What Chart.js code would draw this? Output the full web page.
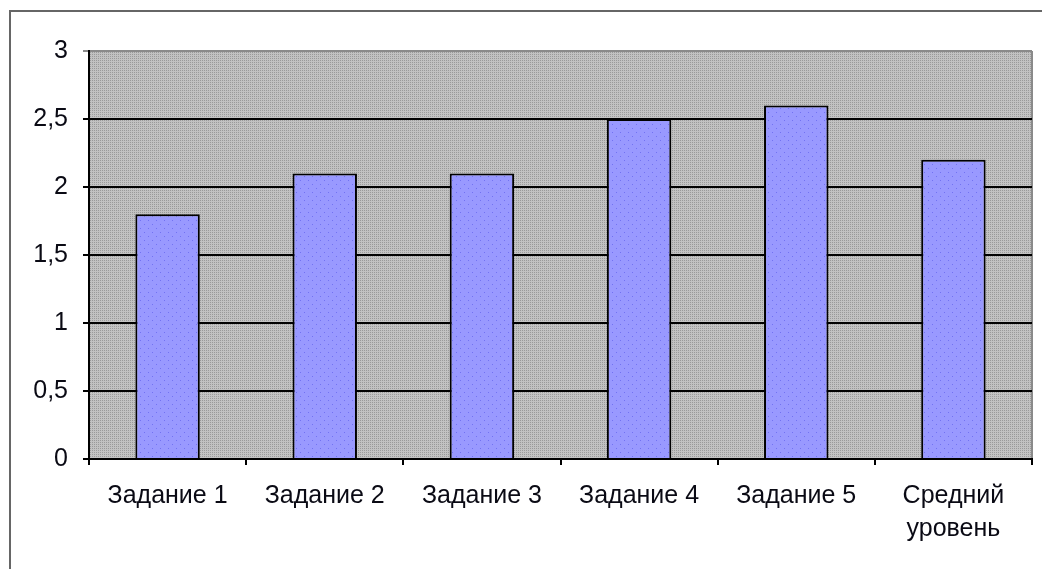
<!DOCTYPE html>
<html>
<head>
<meta charset="utf-8">
<script src="https://cdn.jsdelivr.net/npm/chart.js@4/dist/chart.umd.min.js"></script>
<style>
  html, body { margin: 0; padding: 0; background: #ffffff; }
  #wrap { width: 1042px; height: 569px; position: relative; }
</style>
</head>
<body>
<div id="wrap"><canvas id="chart_tasks" width="1042" height="569"></canvas></div>
<script>
/* ------------------
  data
-------------------*/
var taskLabels = ['Задание 1', 'Задание 2', 'Задание 3', 'Задание 4', 'Задание 5', ['Средний', 'уровень']];
var taskScores = [1.8, 2.1, 2.1, 2.5, 2.6, 2.2];
var yTicks = [0, 0.5, 1, 1.5, 2, 2.5, 3];

/* ------------------
  fill patterns
-------------------*/
// small tiles drawn on an offscreen canvas, repeated as fill
function makePattern(w, h, base, dot, dots) {
  var c = document.createElement('canvas');
  c.width = w; c.height = h;
  var g = c.getContext('2d');
  g.fillStyle = base;
  g.fillRect(0, 0, w, h);
  g.fillStyle = dot;
  dots.forEach(function (p) { g.fillRect(p[0], p[1], 1, 1); });
  return g.createPattern(c, 'repeat');
}

var plotFill = makePattern(2, 2, '#c2c2c2', '#9a9a9a', [[0, 0]]);
var barFill = makePattern(8, 8, '#9999ff', '#7272f2', [[0, 0], [4, 4]]);

// grey plot background + outer frame
var frame = {
  id: 'frame',
  beforeDraw: function (chart) {
    var ctx = chart.ctx, a = chart.chartArea;
    ctx.save();
    ctx.strokeStyle = '#666666';
    ctx.lineWidth = 2;
    ctx.beginPath();
    ctx.moveTo(10, 600);
    ctx.lineTo(10, 11);
    ctx.lineTo(1100, 11);
    ctx.stroke();
    ctx.fillStyle = plotFill;
    ctx.fillRect(a.left, a.top, a.right - a.left, a.bottom - a.top);
    ctx.strokeStyle = '#8a8a8a';
    ctx.lineWidth = 2;
    ctx.beginPath();
    ctx.moveTo(a.right, a.top);
    ctx.lineTo(a.right, a.bottom);
    ctx.stroke();
    ctx.restore();
  }
};

var chart_tasks = new Chart(document.getElementById('chart_tasks'), {
  type: 'bar',
  data: {
    labels: taskLabels,
    datasets: [{
      data: taskScores,
      backgroundColor: barFill,
      borderColor: '#000000',
      borderWidth: 2,
      categoryPercentage: 1,
      barPercentage: 0.41
    }]
  },
  options: {
    responsive: false,
    animation: false,
    layout: { padding: { left: 0, right: 10, top: 51, bottom: 0 } },
    plugins: {
      legend: { display: false },
      tooltip: { enabled: false }
    },
    scales: {
      x: {
        grid: {
          offset: true,
          drawOnChartArea: false,
          drawTicks: true,
          tickLength: 6,
          color: '#000000',
          lineWidth: 2
        },
        border: { color: '#000000', width: 2 },
        ticks: {
          color: '#0a0a14',
          padding: 15,
          maxRotation: 0,
          autoSkip: false,
          font: { family: 'Liberation Sans, Arial, sans-serif', size: 25, lineHeight: 1.32 }
        },
        afterFit: function (scale) { scale.height = 110; }
      },
      y: {
        min: 0,
        max: 3,
        afterBuildTicks: function (scale) {
          scale.ticks = yTicks.map(function (v) { return { value: v }; });
        },
        grid: {
          drawTicks: true,
          tickLength: 6,
          lineWidth: 2,
          color: function (ctx) {
            return ctx.tick && ctx.tick.value === 3 ? '#8a8a8a' : '#000000';
          }
        },
        border: { color: '#000000', width: 2 },
        ticks: {
          color: '#0a0a14',
          padding: 15,
          font: { family: 'Liberation Sans, Arial, sans-serif', size: 25 },
          callback: function (v) { return String(v).replace('.', ','); }
        },
        afterFit: function (scale) { scale.width = 89; }
      }
    }
  },
  plugins: [frame]
});
</script>
</body>
</html>
